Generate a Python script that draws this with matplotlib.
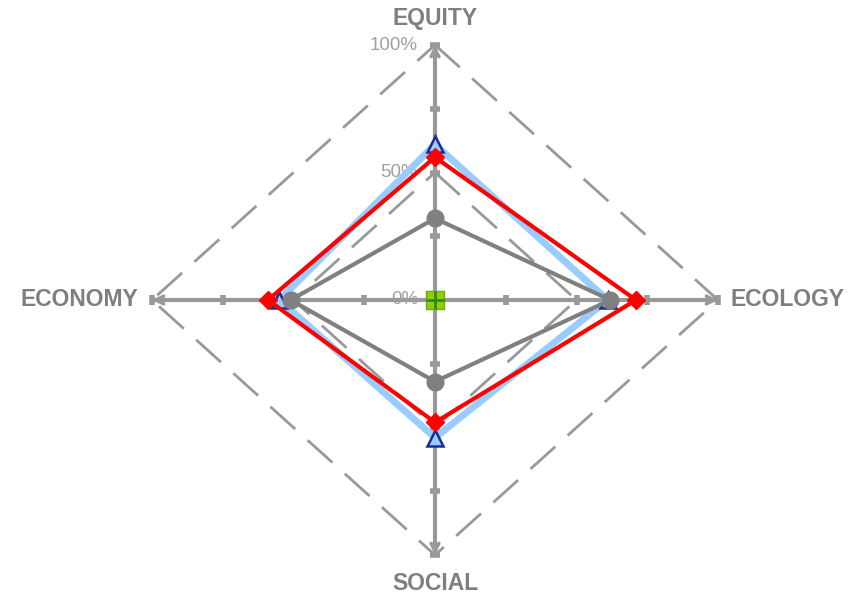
import numpy as np
import matplotlib.pyplot as plt

# axes of the radar, clockwise from the top
categories = ['EQUITY', 'ECOLOGY', 'SOCIAL', 'ECONOMY']
grid_levels = [0.5, 1.0]
tick_levels = [0.25, 0.5, 0.75, 1.0]
level_labels = ['0%', '50%', '100%']
level_values = [0.0, 0.5, 1.0]

# series values (fraction of 100%)
grey_vals = [0.32, 0.62, 0.32, 0.51]
red_vals = [0.56, 0.71, 0.48, 0.59]
blue_vals = [0.61, 0.61, 0.54, 0.55]
green_vals = [0.0, 0.0, 0.0, 0.0]

# unit directions for each axis (up, right, down, left)
dirs = np.array([[0, 1], [1, 0], [0, -1], [-1, 0]])


def poly(vals):
    pts = dirs * np.array(vals)[:, None]
    pts = np.vstack([pts, pts[:1]])
    return pts[:, 0], pts[:, 1]


axis_col = '#999999'
label_col = '#7f7f7f'

fig = plt.figure(figsize=(8.6, 5.96), dpi=100)
ax = fig.add_axes([0, 0, 1, 1])
ax.set_xlim(-435 / 283, 425 / 283)
ax.set_ylim(-296 / 255, 300 / 255)
ax.axis('off')

# dashed diamonds
for lv in grid_levels:
    x, y = poly([lv] * 4)
    ax.plot(x, y, color=axis_col, lw=2, dashes=(12, 6), zorder=1)

# axis lines with ticks and arrow heads
for d in dirs:
    ax.plot([0, d[0]], [0, d[1]], color=axis_col, lw=3, zorder=2, solid_capstyle='butt')
    tx = d[0] * np.array(tick_levels)
    ty = d[1] * np.array(tick_levels)
    mk = '_' if d[0] == 0 else '|'
    ax.plot(tx, ty, ls='none', marker=mk, ms=7, mew=4, color=axis_col, zorder=2)
    ax.annotate('', xy=(d[0], d[1]), xytext=(d[0] * 0.97, d[1] * 0.97),
                arrowprops=dict(arrowstyle='->', color=axis_col, lw=2.5,
                                mutation_scale=14, shrinkA=0, shrinkB=0),
                zorder=2)

# level labels
for lab, v in zip(level_labels, level_values):
    ax.text(-17 / 283, v, lab, ha='right', va='center', fontsize=13.5,
            color='#a0a0a0', family='Liberation Sans', zorder=3)

# category labels
lab_pos = [(0, 281 / 255, 'center', 'center'), (296 / 283, 0, 'left', 'center'),
           (0, -283 / 255, 'center', 'center'), (-297 / 283, 0, 'right', 'center')]
for name, (lx, ly, ha, va) in zip(categories, lab_pos):
    ax.text(lx, ly, name, ha=ha, va=va, fontsize=16.5, fontweight='bold',
            color=label_col, family='Liberation Sans')

# series
x, y = poly(blue_vals)
ax.plot(x, y, color='#99ccff', lw=5, zorder=4)
ax.plot(x[:-1], y[:-1], ls='none', marker='^', ms=12, mfc='#99ccff', mec='#1f2a99',
        mew=1.8, zorder=5)

x, y = poly(red_vals)
ax.plot(x, y, color='#ff0000', lw=3, zorder=6)
ax.plot(x[:-1], y[:-1], ls='none', marker='D', ms=9, color='#ff0000', zorder=6)

x, y = poly(grey_vals)
ax.plot(x, y, color='#808080', lw=3, zorder=7)
ax.plot(x[:-1], y[:-1], ls='none', marker='o', ms=12, color='#808080', zorder=7)

x, y = poly(green_vals)
ax.plot(x[:1], y[:1], ls='none', marker='s', ms=13, mfc='#99cc00', mec='#66aa22',
        mew=1, zorder=8)
ax.plot(x[:1], y[:1], ls='none', marker='+', ms=13, mew=2, color='#2a8a1a', zorder=9)

fig.savefig('out.png', dpi=100)
